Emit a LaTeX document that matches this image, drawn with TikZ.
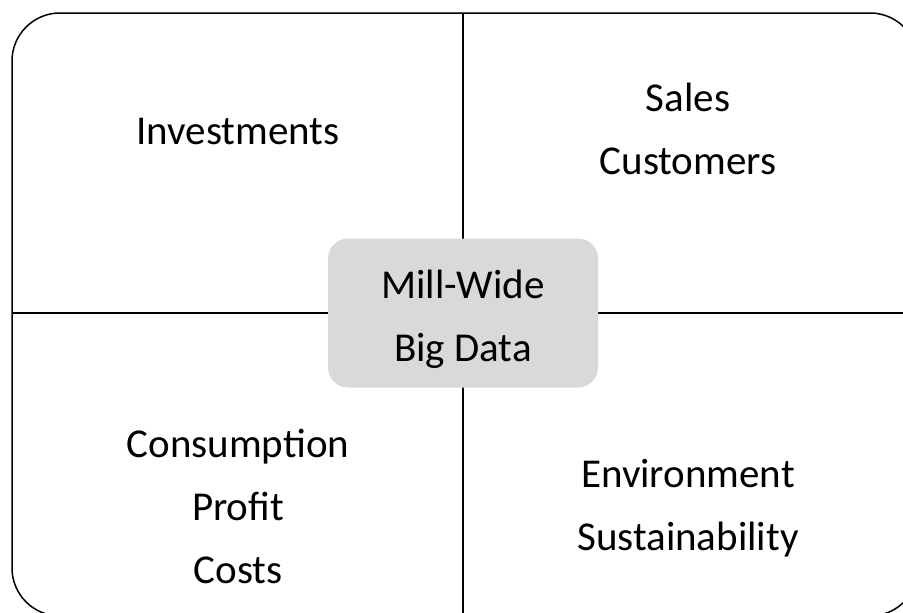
\documentclass[tikz,border=0pt]{standalone}
\usepackage{fontspec}
\setmainfont{Carlito}
\definecolor{boxgray}{HTML}{D9D9D9}
\tikzset{
	frame/.style={draw,line width=1.5pt,rounded corners=48pt},
	divider/.style={draw,line width=1.3pt},
	txt/.style={align=center,font=\fontsize{41}{63}\selectfont,inner sep=0pt},
	hub/.style={fill=boxgray,rounded corners=20pt,minimum width=270pt,minimum height=149pt}
}

\begin{document}
\begin{tikzpicture}[x=1pt,y=-1pt]
	\useasboundingbox (0,0) rectangle (903,613);
	\clip (0,0) rectangle (903,613);
	\draw [frame] (12,13) rectangle (918,616);
	\draw [divider] (463,13) -- (463,616);
	\draw [divider] (12,313) -- (918,313);

	\node [hub] (hub) at (463,313) {};
	\node [txt] (hubtxt) at ([yshift=-6pt]hub.center) {Mill-Wide\\Big Data};

	\node [txt] (invest) at (238,131) {Investments};
	\node [txt] (sales) at (688,129) {Sales\\Customers};
	\node [txt] (consum) at (238,506) {Consumption\\Profit\\Costs};
	\node [txt] (envir) at (688,508) {Environment\\Sustainability};
\end{tikzpicture}
\end{document}
